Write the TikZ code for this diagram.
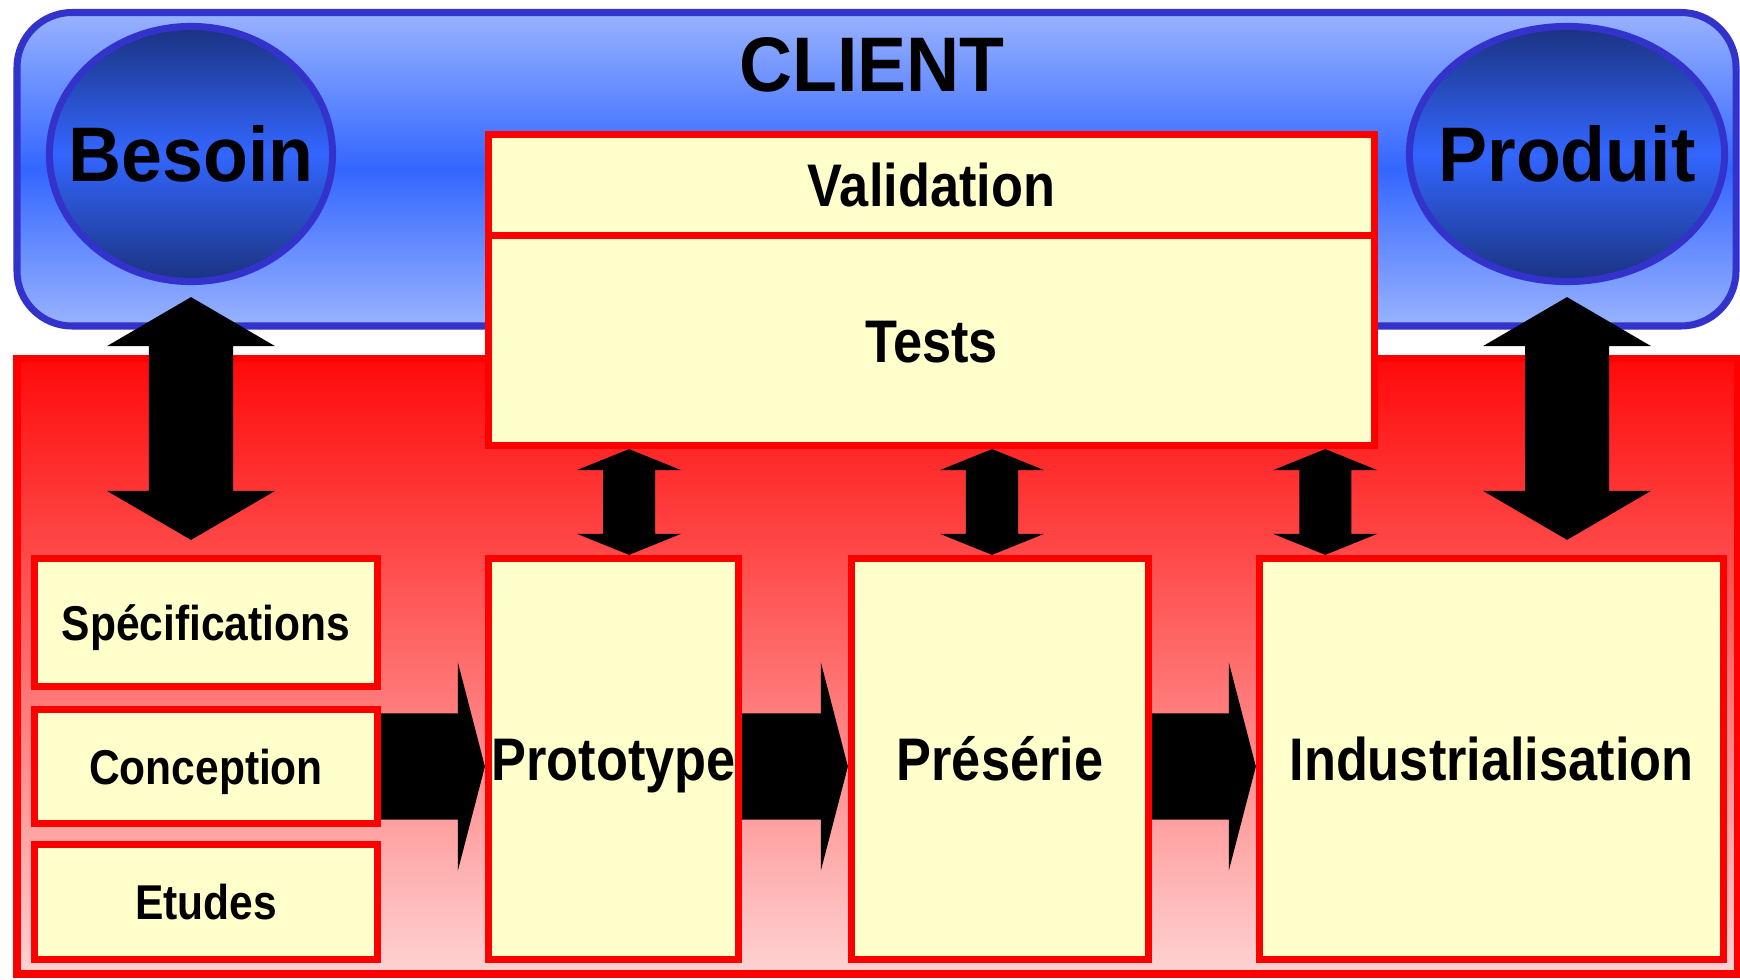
\documentclass[tikz,border=0pt]{standalone}
\usepackage{fontspec}
\setmainfont{Liberation Sans}
\newfontfamily\grandfont{Liberation Sans}[FakeStretch=0.95]
\newfontfamily\etroitfont{Liberation Sans}[FakeStretch=0.87]
\usetikzlibrary{shapes.geometric,calc}

\definecolor{bordbleu}{RGB}{51,51,204}
\definecolor{bleuclair}{RGB}{153,179,255}
\definecolor{bleuvif}{RGB}{51,102,255}
\definecolor{bleunuit}{RGB}{26,51,128}
\definecolor{jaune}{RGB}{255,255,204}
\definecolor{rougehaut}{RGB}{255,10,10}
\definecolor{rougebas}{RGB}{255,210,210}

\tikzset{
  boite/.style={draw=red, line width=2pt, fill=jaune, inner sep=0pt},
  moyen/.style={font=\etroitfont\fontsize{17.1}{20}\selectfont\bfseries, text height=12.25pt, text depth=0pt},
  petit/.style={font=\etroitfont\fontsize{13.9}{16}\selectfont\bfseries, text height=9.95pt, text depth=0pt},
  grand/.style={font=\grandfont\fontsize{22}{26}\selectfont\bfseries, text height=15.75pt, text depth=0pt},
  bulle/.style={ellipse, draw=bordbleu, line width=2pt, inner sep=0pt, minimum height=2.55cm,
    top color=bleunuit, bottom color=bleunuit, middle color=bleuvif, grand}
}

% fleche double verticale : haut, bas, demi-tete, demi-corps, longueur tete
\newcommand\flechedouble[5]{%
  \fill let \p1=(#1), \p2=(#2) in
    (\x1,\y1) -- (\x1+#3,\y1-#5) -- (\x1+#4,\y1-#5) -- (\x1+#4,\y2+#5) -- (\x1+#3,\y2+#5)
    -- (\x1,\y2) -- (\x1-#3,\y2+#5) -- (\x1-#4,\y2+#5) -- (\x1-#4,\y1-#5) -- (\x1-#3,\y1-#5) -- cycle;}
% fleche pleine vers la droite : depart, arrivee, demi-tete, demi-corps, longueur tete
\newcommand\flechedroite[5]{%
  \fill let \p1=(#1), \p2=(#2) in
    (\x1,\y1+#4) -- (\x2-#5,\y1+#4) -- (\x2-#5,\y1+#3) -- (\x2,\y1)
    -- (\x2-#5,\y1-#3) -- (\x2-#5,\y1-#4) -- (\x1,\y1-#4) -- cycle;}

\begin{document}
\begin{tikzpicture}[x=0.01cm, y=-0.01cm]
            \useasboundingbox (0,0) rectangle (1740,979);
            % cadres du fond
            \draw[bordbleu, line width=2pt, rounded corners=5.5mm, top color=bleuclair, bottom color=bleuclair, middle color=bleuvif] (17,12.5) rectangle (1736,326);
            \draw[red, line width=2pt, top color=rougehaut, bottom color=rougebas] (17,358.5) rectangle (1737,974);

            \node[grand] (client) at (872,64) {CLIENT};
            \node[bulle, minimum width=2.83cm] (besoin) at (191,154) {\makebox[0pt]{Besoin}};
            \node[bulle, minimum width=3.15cm] (produit) at (1567,154) {\makebox[0pt]{Produit}};

            \node[boite, moyen, minimum width=8.86cm, minimum height=1.015cm] (valid) at (931.5,185.25) {Validation};
            \node[boite, moyen, minimum width=8.86cm, minimum height=2.095cm] (tests) at (931.5,340.75) {Tests};

            \node[boite, petit, minimum width=3.43cm, minimum height=1.28cm] (spec) at (206,622.5) {Spécifications};
            \node[boite, petit, minimum width=3.43cm, minimum height=1.14cm] (conc) at (206,766.5) {Conception};
            \node[boite, petit, minimum width=3.43cm, minimum height=1.15cm] (etud) at (206,902) {Etudes};

            \node[boite, moyen, minimum width=2.50cm, minimum height=4.01cm] (proto) at (613.5,759) {Prototype};
            \node[boite, moyen, minimum width=2.97cm, minimum height=4.01cm] (pres) at (1000,759) {Présérie};
            \node[boite, moyen, minimum width=4.64cm, minimum height=4.01cm] (indus) at (1491.5,759) {Industrialisation};

            % liens client
            \flechedouble{[yshift=-1.2mm]besoin.south}{[yshift=1.5mm]spec.north}{8.4mm}{4.2mm}{4.9mm}
            \flechedouble{[yshift=-1.2mm]produit.south}{[yshift=1.5mm]indus.north}{8.4mm}{4.2mm}{4.9mm}

            % liens tests
            \coordinate (t1) at ([xshift=1.55mm]proto.north);
            \coordinate (t2) at ([xshift=-0.8mm]pres.north);
            \coordinate (t3) at ([xshift=-5.3mm]tests.south east);
            \flechedouble{t1 |- tests.south}{t1}{5.2mm}{2.6mm}{2.1mm}
            \flechedouble{t2 |- tests.south}{t2}{5.2mm}{2.6mm}{2.1mm}
            \flechedouble{t3}{t3 |- indus.north}{5.2mm}{2.6mm}{2.1mm}

            % enchainement
            \flechedroite{conc.east}{proto.west}{10.4mm}{5.3mm}{2.7mm}
            \flechedroite{proto.east |- conc.east}{pres.west}{10.4mm}{5.3mm}{2.7mm}
            \flechedroite{pres.east |- conc.east}{indus.west}{10.4mm}{5.3mm}{2.7mm}
        \end{tikzpicture}
\end{document}
